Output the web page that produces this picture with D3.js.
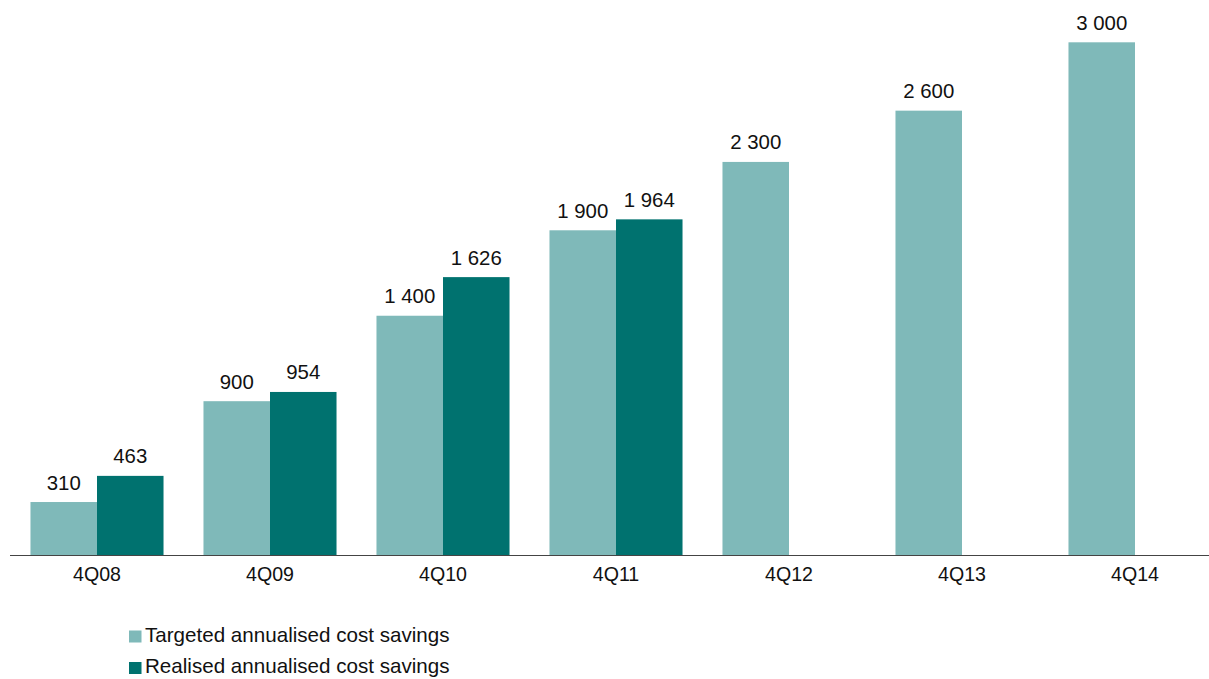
<!DOCTYPE html>
<html>
<head>
<meta charset="utf-8">
<script src="https://cdn.jsdelivr.net/npm/d3@7"></script>
<style>
  html, body { margin: 0; padding: 0; background: #fff; }
  svg { display: block; font-family: "Liberation Sans", Arial, sans-serif; }
</style>
</head>
<body>
<svg id="chart" width="1209" height="679"></svg>
<script>
// Annualised cost savings by quarter
const categories = ["4Q08", "4Q09", "4Q10", "4Q11", "4Q12", "4Q13", "4Q14"];
const targeted   = [310, 900, 1400, 1900, 2300, 2600, 3000];
const realised   = [463, 954, 1626, 1964, null, null, null];
const seriesNames = ["Targeted annualised cost savings", "Realised annualised cost savings"];
const seriesColors = ["#7fb9b9", "#00726f"];

const W = 1209, H = 679;
const baseY = 555, topY = 42.3;

const svg = d3.select("#chart");

const x = d3.scaleBand()
  .domain(categories)
  .range([10.5, 1221.5])
  .paddingInner(0.231)
  .paddingOuter(0.1155);

const sub = d3.scaleBand()
  .domain([0, 1])
  .range([0, x.bandwidth()]);

const y = d3.scaleLinear()
  .domain([0, 3000])
  .range([baseY, topY]);

const fmt = v => d3.format(",")(v).replace(/,/g, " ");

const rows = categories.map((c, i) => ({ cat: c, vals: [targeted[i], realised[i]] }));

const groups = svg.append("g").selectAll("g")
  .data(rows)
  .join("g")
  .attr("transform", d => `translate(${x(d.cat)},0)`);

const cells = groups.selectAll("g.cell")
  .data(d => d.vals.map((v, k) => ({ v, k })).filter(e => e.v != null))
  .join("g")
  .attr("class", "cell");

cells.append("rect")
  .attr("x", e => sub(e.k))
  .attr("width", sub.bandwidth())
  .attr("y", e => y(e.v))
  .attr("height", e => y(0) - y(e.v))
  .attr("fill", e => seriesColors[e.k]);

cells.append("text")
  .attr("x", e => sub(e.k) + sub.bandwidth() / 2)
  .attr("y", e => y(e.v) - 12.5)
  .attr("text-anchor", "middle")
  .attr("font-size", 20.4)
  .attr("fill", "#111")
  .text(e => fmt(e.v));

// Category axis
const axis = svg.append("g")
  .attr("transform", `translate(0,${baseY})`)
  .call(d3.axisBottom(x).tickSize(0));
axis.select(".domain").remove();
axis.selectAll("text")
  .attr("font-size", 19.6)
  .attr("font-family", "Liberation Sans, Arial, sans-serif")
  .attr("fill", "#111")
  .attr("y", 26)
  .attr("dy", 0);
svg.append("line")
  .attr("x1", 10).attr("x2", W)
  .attr("y1", baseY + 0.5).attr("y2", baseY + 0.5)
  .attr("stroke", "#444").attr("stroke-width", 1.2);

// Legend
const legend = svg.append("g")
  .selectAll("g")
  .data(seriesNames)
  .join("g")
  .attr("transform", (d, i) => `translate(129,${630.5 + i * 31.5})`);
legend.append("rect")
  .attr("width", 12.5).attr("height", 12)
  .attr("fill", (d, i) => seriesColors[i]);
legend.append("text")
  .attr("x", 16).attr("y", 11.2)
  .attr("font-size", 20.6)
  .attr("fill", "#111")
  .text(d => d);
</script>
</body>
</html>
